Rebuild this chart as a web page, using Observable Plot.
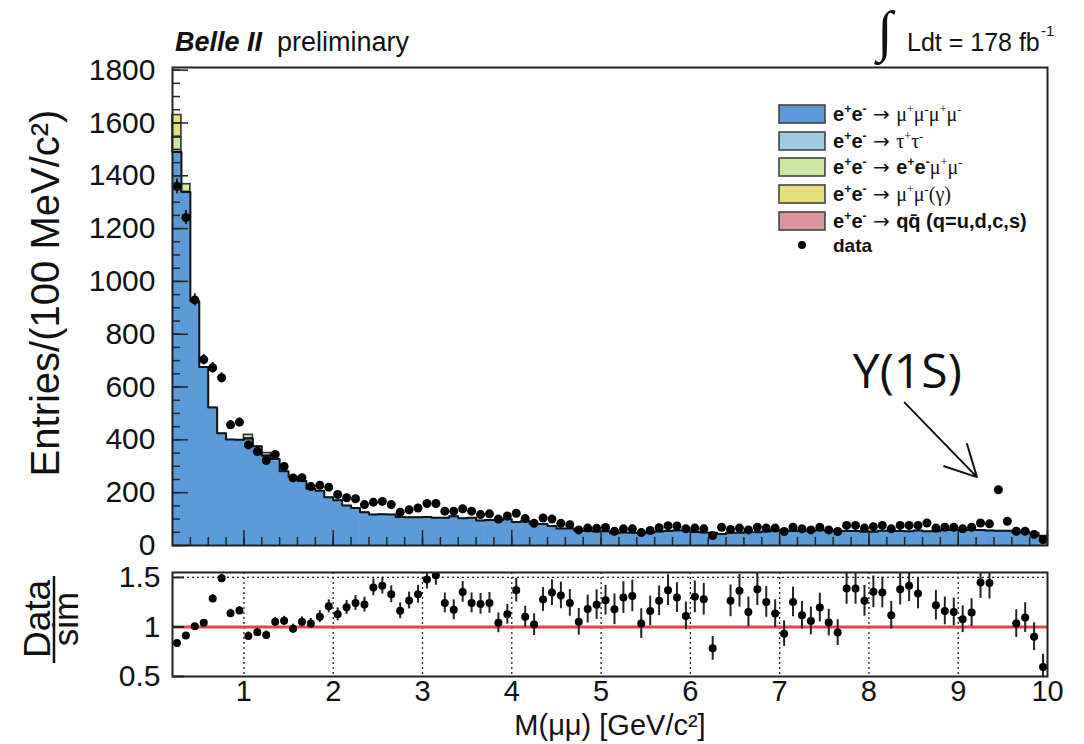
<!DOCTYPE html>
<html><head><meta charset="utf-8">
<script src="https://cdn.jsdelivr.net/npm/d3@7"></script>
<script src="https://cdn.jsdelivr.net/npm/@observablehq/plot@0.6"></script>
<style>
html,body{margin:0;padding:0;background:#fff;}
#wrap{position:relative;width:1084px;height:744px;overflow:hidden;font-family:"Liberation Sans",Arial,sans-serif;}
#main,#ratio{position:absolute;left:0;}
#main{top:0;} #ratio{top:560px;}
#overlay{position:absolute;left:0;top:0;pointer-events:none;}
</style></head><body>
<div id="wrap"><div id="main"></div><div id="ratio"></div>
<svg id="overlay" width="1084" height="744"></svg></div>
<script>
// ---------- data ----------
const binWidth = 0.1;
const binLow = [0.2,0.3,0.4,0.5,0.6,0.7,0.8,0.9,1.0,1.1,1.2,1.3,1.4,1.5,1.6,1.7,1.8,1.9,2.0,2.1,
  2.2,2.3,2.4,2.5,2.6,2.7,2.8,2.9,3.0,3.1,3.2,3.3,3.4,3.5,3.6,3.7,3.8,3.9,4.0,4.1,
  4.2,4.3,4.4,4.5,4.6,4.7,4.8,4.9,5.0,5.1,5.2,5.3,5.4,5.5,5.6,5.7,5.8,5.9,6.0,6.1,
  6.2,6.3,6.4,6.5,6.6,6.7,6.8,6.9,7.0,7.1,7.2,7.3,7.4,7.5,7.6,7.7,7.8,7.9,8.0,8.1,
  8.2,8.3,8.4,8.5,8.6,8.7,8.8,8.9,9.0,9.1,9.2,9.3,9.4,9.5,9.6,9.7,9.8,9.9];

// e+e- -> mu+mu-mu+mu- (blue), entries per bin
const mc4mu = [1490,1339,925,676,523,425,401,400,405,376,
  340,328,281,260,244,215,207,183,171,151,
  142,126,117,118,117,108,107,107,108,105,
  105,111,103,105,95,97,96,99,89,92,
  82,81,74,64,64,56,56,53,54,46,
  49,48,47,49,53,55,57,57,51,49,
  48,44,48,48,51,50,53,58,57,55,
  56,56,58,57,56,55,55,52,52,56,
  56,55,54,57,54,54,59,60,58,60,
  59,57,56,56,52,49,47,37];
// small components visible only in a few bins
const tautauBins = [], tautauVals = [];
const eemumuBins = [0.2, 0.3, 1.0, 1.2], eemumuVals = [55, 29, 14, 10];
const mumugBins = [0.2], mumugVals = [85];
const qqBins = [], qqVals = [];

const dataVals = [1360,1242,930,704,673,635,457,467,381,356,
  322,345,299,256,257,223,228,221,193,181,
  177,155,164,167,155,126,135,142,159,159,
  130,130,139,130,117,120,100,112,122,102,
  84,104,100,84,79,59,66,65,68,54,
  63,63,49,57,67,75,74,63,66,63,
  38,69,61,66,59,69,66,66,53,69,
  63,59,69,59,53,76,76,66,71,76,
  63,76,76,76,85,66,69,69,63,69,
  85,82,211,92,54,54,42,22];
const dataErr = [28,27,23,20,20,19,16,16,15,14,
  14,14,13,12,12,11,11,11,10,10,
  10,9,10,10,9,9,9,9,10,10,
  9,9,9,9,8,8,8,8,8,8,
  7,8,8,7,7,6,6,6,6,6,
  6,6,5,6,6,7,7,6,6,6,
  5,6,6,6,6,6,6,6,5,6,
  6,6,6,6,5,7,7,6,6,7,
  6,7,7,7,7,6,6,6,6,6,
  7,7,11,7,6,6,5,4];

const ratioVals = [0.837,0.913,1.007,1.042,1.288,1.493,1.139,1.167,0.910,0.948,
  0.920,1.052,1.063,0.983,1.052,1.035,1.104,1.208,1.128,1.198,
  1.243,1.226,1.399,1.417,1.330,1.163,1.267,1.330,1.479,1.521,
  1.243,1.174,1.354,1.243,1.233,1.243,1.042,1.128,1.372,1.104,
  1.024,1.278,1.347,1.319,1.243,1.052,1.181,1.225,1.270,1.179,
  1.297,1.314,1.034,1.162,1.264,1.372,1.297,1.111,1.304,1.280,
  0.784,null,1.264,1.365,1.152,1.382,1.253,1.135,0.932,1.253,
  1.118,1.061,1.196,1.044,0.943,1.389,1.389,1.264,1.355,1.348,
  1.118,1.382,1.416,1.338,null,1.220,1.162,1.152,1.078,1.145,
  1.449,1.443,null,null,1.034,1.095,0.902,0.595];
const ratioErr = [0.02,0.02,0.025,0.03,0.035,0.04,0.04,0.04,0.04,0.04,
  0.04,0.045,0.045,0.045,0.05,0.05,0.06,0.065,0.065,0.07,
  0.075,0.075,0.085,0.085,0.085,0.08,0.085,0.09,0.095,0.1,
  0.1,0.1,0.105,0.1,0.105,0.105,0.1,0.1,0.12,0.105,
  0.11,0.12,0.13,0.135,0.135,0.135,0.14,0.15,0.15,0.155,
  0.16,0.16,0.15,0.15,0.15,0.155,0.15,0.14,0.16,0.16,
  0.12,0,0.16,0.165,0.15,0.165,0.155,0.14,0.13,0.15,
  0.14,0.14,0.145,0.135,0.13,0.16,0.16,0.155,0.16,0.155,
  0.14,0.16,0.16,0.155,0,0.15,0.14,0.14,0.135,0.14,
  0.16,0.16,0,0,0.14,0.15,0.14,0.13];

const colors = {mumumumu:"#5a9bd8", tautau:"#9ccbe3", eemumu:"#cde8a2", mumugamma:"#e4df7c", qqbar:"#d9959b"};

const yMajor = [0,200,400,600,800,1000,1200,1400,1600,1800];
const yMinor = d3.range(0, 1801, 50);
const xMajor = [1,2,3,4,5,6,7,8,9,10];
const xMinor = d3.range(2, 50).map(k => k / 5);
const ratioTicks = [0.5, 1, 1.5];
const ratioGrid = [1,2,3,4,5,6,7,8,9];

const upsilon = [{label: "Y(1S)", x: 8.43, y: 655, x1: 8.40, y1: 541, x2: 9.21, y2: 259}];

// ---------- build tables ----------
const blueRows = binLow.map((lo, i) => ({x1: lo, x2: lo + binWidth, y1: 0, y2: mc4mu[i]}));
const stackRows = [];
const base = mc4mu.slice();
function addComp(bins, vals, key) {
  bins.forEach((b, j) => {
    const i = binLow.findIndex(v => Math.abs(v - b) < 1e-6);
    stackRows.push({x1: b, x2: b + binWidth, y1: base[i], y2: base[i] + vals[j], key});
    base[i] += vals[j];
  });
}
addComp(tautauBins, tautauVals, "tautau");
addComp(eemumuBins, eemumuVals, "eemumu");
addComp(mumugBins, mumugVals, "mumugamma");
addComp(qqBins, qqVals, "qqbar");
const stepPts = [];
binLow.forEach((lo, i) => { stepPts.push({x: lo, y: mc4mu[i]}, {x: lo + binWidth, y: mc4mu[i]}); });
const dataRows = binLow.map((lo, i) => ({xc: lo + binWidth / 2, v: dataVals[i], lo: dataVals[i] - dataErr[i], hi: dataVals[i] + dataErr[i]}));
const ratioRows = binLow.map((lo, i) => ({xc: lo + binWidth / 2, r: ratioVals[i], lo: ratioVals[i] - ratioErr[i], hi: ratioVals[i] + ratioErr[i]})).filter(d => d.r !== null);

const FONT = "'Liberation Sans', Arial, Helvetica, sans-serif";
const axisStroke = "#222";

const main = Plot.plot({
  width: 1084, height: 560,
  marginLeft: 172, marginRight: 37, marginTop: 67, marginBottom: 15,
  x: {domain: [0.2, 10], label: null},
  y: {domain: [0, 1810], label: null},
  style: {fontFamily: FONT, color: "#111", background: "white"},
  marks: [
    Plot.rect(blueRows, {x1: "x1", x2: "x2", y1: "y1", y2: "y2", fill: colors.mumumumu, stroke: colors.mumumumu, strokeWidth: 0.6, inset: 0}),
    Plot.rect(stackRows, {x1: "x1", x2: "x2", y1: "y1", y2: "y2", fill: d => colors[d.key], stroke: "#333", strokeWidth: 1.6, inset: 0}),
    Plot.line(stepPts, {x: "x", y: "y", stroke: "#111", strokeWidth: 2}),
    Plot.ruleX(dataRows, {x: "xc", y1: "lo", y2: "hi", stroke: "#111", strokeWidth: 1.8}),
    Plot.dot(dataRows, {x: "xc", y: "v", r: 4.5, fill: "#000"}),
    Plot.axisY({ticks: yMinor, tickSize: -8, tickFormat: () => "", stroke: axisStroke, strokeWidth: 1.5, label: null}),
    Plot.axisY({ticks: yMajor, tickSize: -16, tickFormat: () => "", stroke: axisStroke, strokeWidth: 1.5, label: null}),
    Plot.axisY({ticks: yMajor, tickSize: 0, tickPadding: 17, fontSize: 30, tickFormat: d => `${d}`, fill: "#111", label: null}),
    Plot.axisX({ticks: xMinor, tickSize: -8, tickFormat: () => "", stroke: axisStroke, strokeWidth: 1.5, label: null}),
    Plot.axisX({ticks: xMajor, tickSize: -15, tickFormat: () => "", stroke: axisStroke, strokeWidth: 1.5, label: null}),
    Plot.frame({stroke: "#222", strokeWidth: 2}),
    Plot.arrow(upsilon, {x1: "x1", y1: "y1", x2: "x2", y2: "y2", stroke: "#111", strokeWidth: 2, headLength: 36, headAngle: 55}),
    Plot.text(upsilon, {x: "x", y: "y", text: "label", fontSize: 48, fontFamily: "'Open Sans', sans-serif", fill: "#111", textAnchor: "middle"})
  ]
});
document.getElementById("main").appendChild(main);

const ratio = Plot.plot({
  width: 1084, height: 184,
  marginLeft: 172, marginRight: 37, marginTop: 12, marginBottom: 68,
  x: {domain: [0.2, 10], label: null},
  y: {domain: [0.5, 1.55], label: null},
  style: {fontFamily: FONT, color: "#111", background: "white"},
  marks: [
    Plot.ruleX(ratioGrid, {stroke: "#222", strokeWidth: 1.3, strokeDasharray: "2,3"}),
    Plot.ruleY([1.5], {stroke: "#222", strokeWidth: 1.3, strokeDasharray: "2,3"}),
    Plot.ruleY([1], {stroke: "#e8434c", strokeWidth: 3}),
    Plot.ruleX(ratioRows, {x: "xc", y1: "lo", y2: "hi", stroke: "#222", strokeWidth: 2, clip: true}),
    Plot.dot(ratioRows, {x: "xc", y: "r", r: 4, fill: "#000", clip: true}),
    Plot.axisY({ticks: ratioTicks, tickSize: -12, tickFormat: () => "", stroke: axisStroke, strokeWidth: 2, label: null}),
    Plot.axisY({ticks: ratioTicks, tickSize: 0, tickPadding: 12, fontSize: 30, tickFormat: d => `${d}`, fill: "#111", label: null}),
    Plot.axisX({ticks: xMajor, tickSize: 0, tickPadding: 4, fontSize: 29, tickFormat: d => `${d}`, fill: "#111", label: null}),
    Plot.frame({stroke: "#222", strokeWidth: 2})
  ]
});
document.getElementById("ratio").appendChild(ratio);

// ---------- overlay texts, legend ----------
const ov = d3.select("#overlay");
const SERIF = "'Liberation Serif','DejaVu Serif',serif";
const SYM = "'DejaVu Sans',sans-serif";
function rich(parent, x, y, segs, size) {
  const t = parent.append("text").attr("x", x).attr("y", y).attr("font-size", size).attr("fill", "#111");
  let shifted = false;
  for (const [str, style] of segs) {
    const sp = t.append("tspan").text(str);
    const sup = style.includes("^");
    sp.attr("font-family", style.includes("a") ? SYM : style.includes("s") ? SERIF : FONT);
    sp.attr("font-weight", style.includes("b") ? "bold" : "normal");
    if (sup) { sp.attr("font-size", size * 0.62); if (!shifted) { sp.attr("dy", -size * 0.42); shifted = true; } }
    else if (shifted) { sp.attr("dy", size * 0.42); shifted = false; }
  }
  return t;
}
// header
rich(ov, 175, 51, [["Belle II", "b"]], 27).attr("font-style", "italic");
rich(ov, 277, 51, [["preliminary", ""]], 27);
ov.append("text").attr("x", 877).attr("y", 50).attr("font-size", 56).attr("font-family", SERIF).attr("fill", "#111").text("∫");
rich(ov, 907, 51, [["Ldt = 178 fb", ""]], 25);
rich(ov, 1041, 36, [["-1", ""]], 15);

// axis titles
ov.append("text").attr("transform", "translate(59,293) rotate(-90)").attr("text-anchor", "middle")
  .attr("font-size", 40).attr("font-family", FONT).attr("fill", "#111").text("Entries/(100 MeV/c²)");
ov.append("text").attr("x", 610).attr("y", 735).attr("text-anchor", "middle")
  .attr("font-size", 29).attr("font-family", FONT).attr("fill", "#111").text("M(μμ) [GeV/c²]");
ov.append("text").attr("transform", "translate(50,619) rotate(-90)").attr("text-anchor", "middle")
  .attr("font-size", 37).attr("font-family", FONT).attr("fill", "#111").text("Data");
ov.append("line").attr("x1", 54).attr("x2", 54).attr("y1", 576).attr("y2", 663).attr("stroke", "#111").attr("stroke-width", 2.5);
ov.append("text").attr("transform", "translate(78,619) rotate(-90)").attr("text-anchor", "middle")
  .attr("font-size", 35).attr("font-family", FONT).attr("fill", "#111").text("sim");

// legend
const ee = [["e", "b"], ["+", "b^"], ["e", "b"], ["-", "b^"], [" → ", "a"]];
const legendRows = [
  {key: "mumumumu", segs: [...ee, ["μ", "s"], ["+", "s^"], ["μ", "s"], ["-", "s^"], ["μ", "s"], ["+", "s^"], ["μ", "s"], ["-", "s^"]]},
  {key: "tautau", segs: [...ee, ["τ", "s"], ["+", "s^"], ["τ", "s"], ["-", "s^"]]},
  {key: "eemumu", segs: [...ee, ["e", "b"], ["+", "b^"], ["e", "b"], ["-", "b^"], ["μ", "s"], ["+", "s^"], ["μ", "s"], ["-", "s^"]]},
  {key: "mumugamma", segs: [...ee, ["μ", "s"], ["+", "s^"], ["μ", "s"], ["-", "s^"], ["(γ)", "s"]]},
  {key: "qqbar", segs: [...ee, ["qq\u0304 (q=u,d,c,s)", "b"]]}
];
const rowY = [114, 141, 167, 194, 221];
legendRows.forEach((r, i) => {
  ov.append("rect").attr("x", 779).attr("y", rowY[i] - 9).attr("width", 46).attr("height", 18)
    .attr("fill", colors[r.key]).attr("stroke", "#444").attr("stroke-width", 1.6);
  rich(ov, 833, rowY[i] + 7, r.segs, 20);
});
ov.append("circle").attr("cx", 802).attr("cy", 245).attr("r", 4).attr("fill", "#000");
rich(ov, 833, 252, [["data", "b"]], 19);
</script>
</body></html>
